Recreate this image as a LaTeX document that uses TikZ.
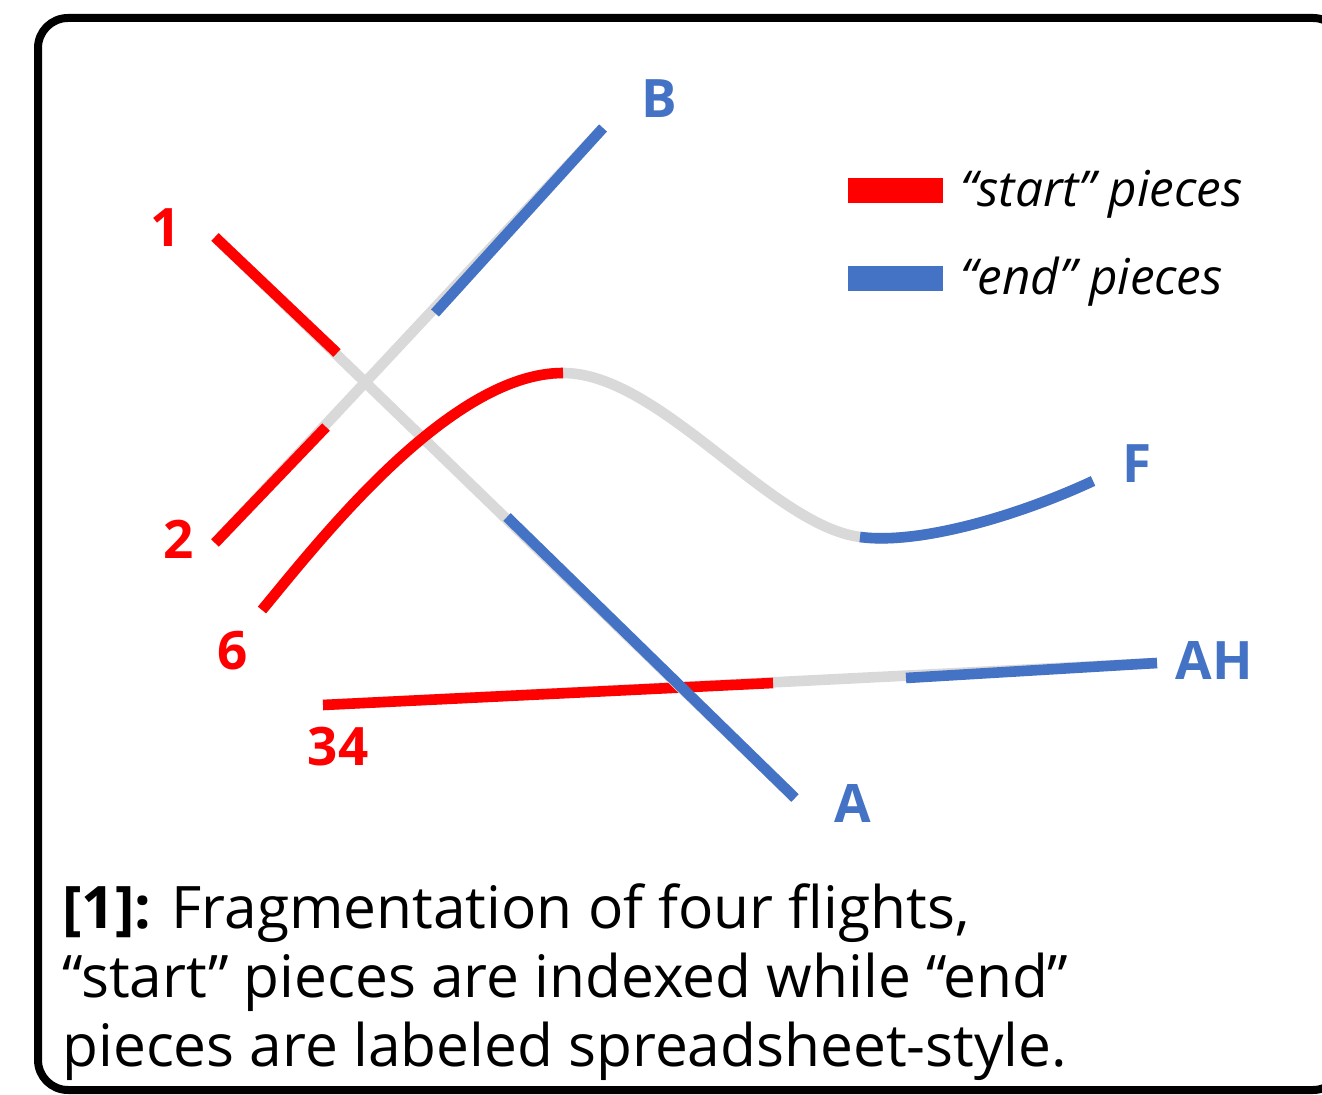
\documentclass[tikz,border=0pt]{standalone}
\usepackage{fontspec}
\setmainfont{Open Sans}
\usetikzlibrary{positioning}
\definecolor{StartRed}{RGB}{255,0,0}
\definecolor{EndBlue}{RGB}{68,114,196}
\definecolor{GapGray}{RGB}{217,217,217}

\begin{document}
\begin{tikzpicture}[
    x=0.5pt, y=-0.5pt,
    trk/.style={line width=5.3pt, GapGray},
    startseg/.style={line width=5.3pt, StartRed},
    endseg/.style={line width=5.3pt, EndBlue},
    idx/.style={font=\fontsize{26.5}{30}\selectfont\bfseries, text=StartRed,
                anchor=base, inner sep=0pt},
    ltr/.style={idx, text=EndBlue},
    keybar/.style={minimum width=47.5pt, minimum height=12.5pt, inner sep=0pt},
    keytxt/.style={font=\fontsize{24.7}{28}\selectfont\itshape, anchor=base west, inner sep=0pt},
    caption/.style={font=\fontsize{29.3}{34.5}\selectfont, align=left, inner sep=0pt}
  ]
    \useasboundingbox (0,0) rectangle (1322,1095);
    \draw[line width=4pt, rounded corners=15pt] (38,18) rectangle (1343,1090);

    \coordinate (s1) at (215,237);  \coordinate (c1a) at (337,353);
    \coordinate (c1b) at (507,517); \coordinate (eA) at (795,798);
    \coordinate (s2) at (215,543);  \coordinate (c2a) at (326,427);
    \coordinate (c2b) at (435,313); \coordinate (eB) at (603,128);
    \coordinate (s6) at (262,610);  \coordinate (c6a) at (563,373);
    \coordinate (c6b) at (860,537); \coordinate (eF) at (1093,481);
    \coordinate (s34) at (323,705); \coordinate (c34a) at (773,683);
    \coordinate (c34b) at (906,678); \coordinate (eAH) at (1157,663);

    \draw[trk](s34)--(eAH);
    \draw[startseg](s34)--(c34a); \draw[endseg](c34b)--(eAH);

    \draw[trk](s1)--(eA);
    \draw[startseg](s1)--(c1a); \draw[endseg](c1b)--(eA);

    \draw[trk](s2)--(eB);
    \draw[startseg](s2)--(c2a); \draw[endseg](c2b)--(eB);

    \draw[trk](s6) .. controls (320,540) and (450,373) .. (c6a)
                   .. controls (660,373) and (770,525) .. (c6b)
                   .. controls (920,545) and (1020,515) .. (eF);
    \draw[startseg](s6) .. controls (320,540) and (450,373) .. (c6a);
    \draw[endseg](c6b) .. controls (920,545) and (1020,515) .. (eF);

    \node[idx] (n1) at (166,247) {1};
    \node[idx] (n2) at (179,559) {2};
    \node[idx] (n6) at (233,670) {6};
    \node[idx] (n34) at (338,765) {34};
    \node[ltr] (lA) at (853,822) {A};
    \node[ltr] (lB) at (659,118) {B};
    \node[ltr] (lF) at (1137,483) {F};
    \node[ltr] (lAH) at (1214,680) {AH};

    \node[keybar, fill=StartRed] (keyS) at (895.5,190.5) {};
    \node[keybar, fill=EndBlue] (keyE) at (895.5,279) {};
    \node[keytxt] (txtS) at (960,207) {“start” pieces};
    \node[keytxt] (txtE) at (960,295) {“end” pieces};

    \node[caption, anchor=base west] (cap) at (62,1066)
      {\textbf{[1]:} Fragmentation of four flights,\\
       “start” pieces are indexed while “end”\\
       pieces are labeled spreadsheet-style.};
  \end{tikzpicture}
\end{document}
